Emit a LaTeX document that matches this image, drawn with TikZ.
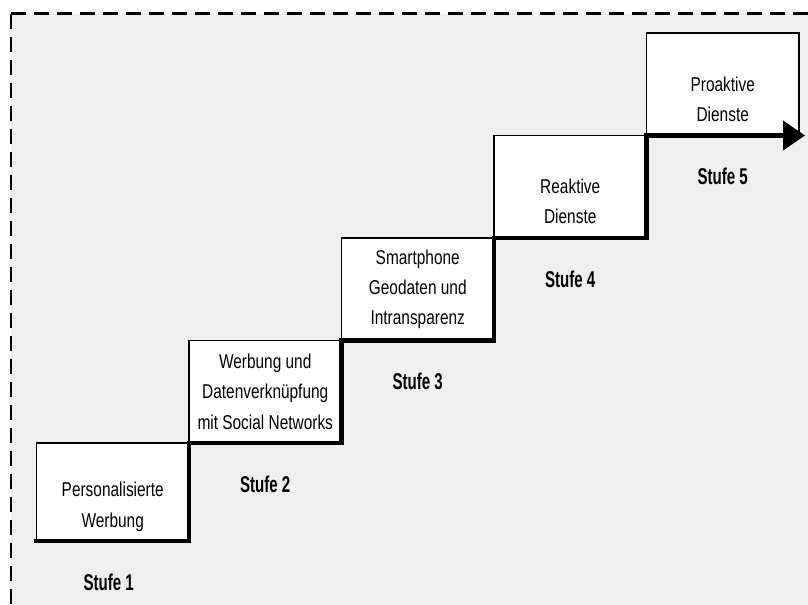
\documentclass[tikz,border=0pt]{standalone}
\usepackage{fontspec}
\setmainfont[FakeStretch=0.77]{Liberation Sans}
\newfontfamily\stufefont[FakeStretch=0.66]{Liberation Sans}
\usepackage{xcolor}
\usepackage{tikz}
\usetikzlibrary{arrows.meta,positioning}

\definecolor{bggray}{HTML}{EFEFEF}

\begin{document}
\begin{tikzpicture}[
    stepbox/.style={draw=black, line width=0.9pt, fill=white, outer sep=0pt,
      minimum width=3.05cm, minimum height=2.05cm, inner sep=0pt, align=center,
      font=\fontsize{11.4pt}{17.2pt}\selectfont},
    stufe/.style={font=\stufefont\bfseries\fontsize{13pt}{15pt}\selectfont},
    stair/.style={line width=2.3pt, line cap=rect},
    frame/.style={line width=1.7pt, dash pattern=on 0.3cm off 0.16cm}
  ]
    \useasboundingbox (0,0) rectangle (16.16,12.1);

    % Background
    \fill[bggray] (0.22,0) rectangle (16.16,11.82);
    \draw[frame] (0.22,11.82) -- (0.22,0);
    \draw[frame] (0.22,11.82) -- (16.16,11.82);

    % Steps
    \node[stepbox, minimum height=1.96cm] (s1) at (2.255,2.26) {\vphantom{P}\\Personalisierte\\Werbung};
    \node[stepbox, above right=0pt of s1] (s2) {Werbung und\\Datenverknüpfung\\mit Social Networks};
    \node[stepbox, above right=0pt of s2] (s3) {Smartphone\\Geodaten und\\Intransparenz};
    \node[stepbox, above right=0pt of s3] (s4) {\vphantom{P}\\Reaktive\\Dienste};
    \node[stepbox, above right=0pt of s4] (s5) {\vphantom{P}\\Proaktive\\Dienste};

    % Staircase
    \coordinate (tip) at ([xshift=0.12cm]s5.south east);
    \draw[stair, -{Triangle[length=0.44cm,width=0.58cm]}]
      (s1.south west) -- (s1.south east) -- (s2.south west)
      -- (s2.south east) -- (s3.south west)
      -- (s3.south east) -- (s4.south west)
      -- (s4.south east) -- (s5.south west) -- (tip);

    % Labels
    \node[stufe] (l1) at ([xshift=-0.08cm,yshift=-0.82cm]s1.south) {Stufe 1};
    \node[stufe] (l2) at ([yshift=-0.82cm]s2.south) {Stufe 2};
    \node[stufe] (l3) at ([yshift=-0.82cm]s3.south) {Stufe 3};
    \node[stufe] (l4) at ([yshift=-0.82cm]s4.south) {Stufe 4};
    \node[stufe] (l5) at ([yshift=-0.82cm]s5.south) {Stufe 5};
\end{tikzpicture}
\end{document}
